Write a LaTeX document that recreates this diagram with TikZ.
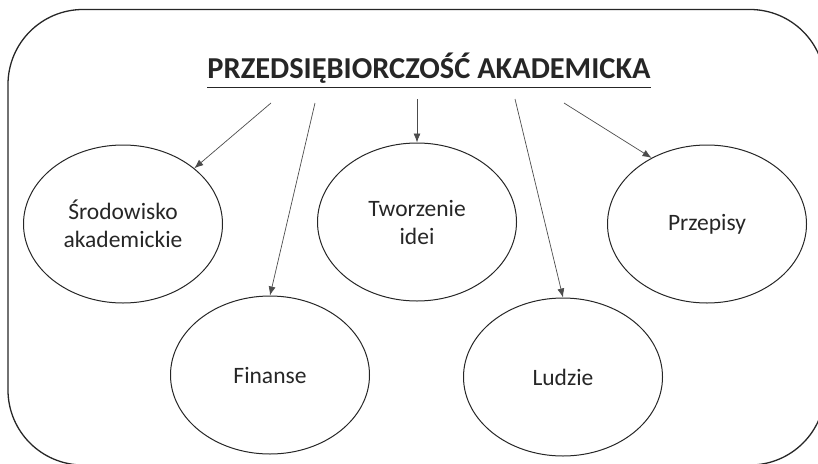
\documentclass[tikz,border=0pt]{standalone}
\usepackage{fontspec}
\setmainfont{Carlito}
\usetikzlibrary{shapes.geometric,arrows.meta}

\tikzset{
  frame/.style={draw=black!85, line width=1.3pt, rounded corners=75pt},
  topic/.style={ellipse, draw=black!85, line width=1pt, inner sep=0pt,
    minimum width=199pt, minimum height=158pt, align=center,
    font=\fontsize{23.5}{28}\selectfont, text=black!85},
  heading/.style={inner sep=0pt, font=\fontsize{30.4}{34}\selectfont\bfseries, text=black!85},
  link/.style={draw=black!70, line width=0.7pt, -{Latex[length=9pt,width=7pt]}}
}

\begin{document}
\begin{tikzpicture}[x=1pt, y=-1pt]
  \useasboundingbox (0,0) rectangle (818,463);
  \clip (0,0) rectangle (818,463);

  % outer frame, running past the right and bottom edges
  \draw[frame] (8,9.5) rectangle (825,465);

  % heading with its underline
  \node[heading, anchor=base] (title) at (429,78) {PRZEDSIĘBIORCZOŚĆ AKADEMICKA};
  \draw[line width=1.4pt, black!85] ([yshift=-9.5pt]title.base west) -- ([yshift=-9.5pt]title.base east);

  % topics
  \node[topic] (env)   at (123,224) {Środowisko\\akademickie};
  \node[topic] (fin)   at (270,375) {Finanse};
  \node[topic] (idea)  at (417,222) {Tworzenie\\idei};
  \node[topic] (ppl)   at (563,377) {Ludzie};
  \node[topic] (law)   at (707,224) {Przepisy};

  % arrow origins under the heading
  \coordinate (s1) at (271,103);
  \coordinate (s2) at (315,103);
  \coordinate (s3) at (417,99);
  \coordinate (s4) at (515,99);
  \coordinate (s5) at (564,103);

  \draw[link] (s1) -- (env.38);
  \draw[link] (s2) -- (fin.north);
  \draw[link] (s3) -- (idea.north);
  \draw[link] (s4) -- (ppl.north);
  \draw[link] (s5) -- (law.130);
\end{tikzpicture}
\end{document}
